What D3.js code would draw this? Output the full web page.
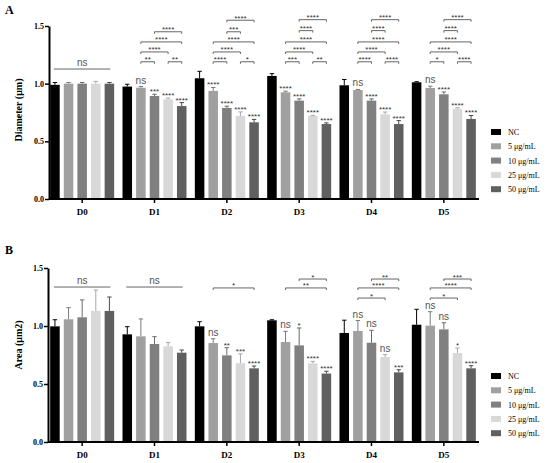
<!DOCTYPE html>
<html>
  <head>
    <meta charset="utf-8">
    <title>Diameter and Area</title>
    <script src="https://d3js.org/d3.v7.min.js"></script>
    <style>
      body {
        margin: 0;
        background-color: white;
      }
      .serif {
        font-family: 'Liberation Serif', 'DejaVu Serif', serif;
      }
      .sans {
        font-family: 'Liberation Sans', Arial, sans-serif;
      }
    </style>
  </head>
  <body>
    <script>
      const days = ['D0', 'D1', 'D2', 'D3', 'D4', 'D5'];
      const groups = ['NC', '5 μg/mL', '10 μg/mL', '25 μg/mL', '50 μg/mL'];
      const yTicks = [0, 0.5, 1.0, 1.5];

      // panel A - diameter, one array per treatment (D0..D5)
      const diamNC = [0.99, 0.975, 1.047, 1.067, 0.986, 1.012];
      const diam5 = [1.0, 0.965, 0.937, 0.925, 0.945, 0.963];
      const diam10 = [1.0, 0.893, 0.79, 0.853, 0.853, 0.908];
      const diam25 = [1.0, 0.865, 0.72, 0.72, 0.734, 0.783];
      const diam50 = [1.0, 0.806, 0.665, 0.65, 0.65, 0.694];
      const diamErrNC = [0.02, 0.02, 0.06, 0.02, 0.05, 0.005];
      const diamErr5 = [0.01, 0.01, 0.03, 0.01, 0.005, 0.015];
      const diamErr10 = [0.01, 0.015, 0.015, 0.015, 0.015, 0.02];
      const diamErr25 = [0.02, 0.01, 0.035, 0.005, 0.02, 0.008];
      const diamErr50 = [0.01, 0.03, 0.025, 0.01, 0.03, 0.03];
      // significance vs NC for 5/10/25/50
      const diamMarks = [
        [],
        ['ns', '***', '****', '****'],
        ['****', '****', '****', '****'],
        ['****', '****', '****', '****'],
        ['ns', '****', '****', '****'],
        ['ns', '****', '****', '****']
      ];
      // [day, from group, to group, label, height]
      const diamBrackets = [
        [0, 0, 4, 'ns', 1.127],
        [1, 1, 2, '**', 1.19], [1, 3, 4, '**', 1.19], [1, 1, 3, '****', 1.275],
        [1, 1, 4, '****', 1.362], [1, 2, 4, '****', 1.45],
        [2, 1, 2, '****', 1.19], [2, 3, 4, '*', 1.19], [2, 1, 3, '****', 1.275],
        [2, 1, 4, '****', 1.362], [2, 2, 3, '***', 1.45], [2, 2, 4, '****', 1.55],
        [3, 1, 2, '***', 1.19], [3, 3, 4, '**', 1.19], [3, 1, 3, '****', 1.275],
        [3, 1, 4, '****', 1.362], [3, 2, 3, '****', 1.46], [3, 2, 4, '****', 1.555],
        [4, 1, 2, '****', 1.19], [4, 3, 4, '****', 1.19], [4, 1, 3, '****', 1.275],
        [4, 1, 4, '****', 1.362], [4, 2, 3, '****', 1.46], [4, 2, 4, '****', 1.555],
        [5, 1, 2, '*', 1.19], [5, 3, 4, '****', 1.19], [5, 1, 3, '****', 1.275],
        [5, 1, 4, '****', 1.362], [5, 2, 3, '****', 1.46], [5, 2, 4, '****', 1.555]
      ];

      // panel B - area
      const areaNC = [0.997, 0.928, 0.997, 1.049, 0.94, 1.011];
      const area5 = [1.058, 0.911, 0.853, 0.862, 0.957, 1.003];
      const area10 = [1.075, 0.845, 0.747, 0.833, 0.856, 0.971];
      const area25 = [1.13, 0.825, 0.68, 0.678, 0.733, 0.767];
      const area50 = [1.13, 0.77, 0.635, 0.59, 0.60, 0.635];
      const areaErrNC = [0.057, 0.066, 0.04, 0.005, 0.11, 0.133];
      const areaErr5 = [0.10, 0.15, 0.037, 0.092, 0.09, 0.12];
      const areaErr10 = [0.15, 0.063, 0.066, 0.15, 0.107, 0.057];
      const areaErr25 = [0.18, 0.032, 0.08, 0.017, 0.02, 0.043];
      const areaErr50 = [0.12, 0.023, 0.02, 0.02, 0.023, 0.023];
      const areaMarks = [
        [],
        [],
        ['ns', '**', '***', '****'],
        ['ns', '*', '****', '****'],
        ['ns', 'ns', 'ns', '***'],
        ['ns', 'ns', '*', '****']
      ];
      const areaBrackets = [
        [0, 0, 4, 'ns', 1.336],
        [1, 0, 4, 'ns', 1.336],
        [2, 1, 4, '*', 1.328],
        [3, 2, 4, '*', 1.405], [3, 1, 4, '**', 1.328],
        [4, 2, 4, '**', 1.405], [4, 1, 4, '****', 1.328], [4, 1, 3, '*', 1.241],
        [5, 2, 4, '***', 1.405], [5, 1, 4, '****', 1.328], [5, 1, 3, '*', 1.241]
      ];

      const colors = ['#000000', '#a0a0a0', '#808080', '#d8d8d8', '#606060'];
      const errColors = ['#000000', '#7a7a7a', '#6a6a6a', '#a8a8a8', '#4a4a4a'];

      const w = 550;
      const h = 463;

      const svg = d3.select('body')
                    .append('svg')
                    .attr('width', w)
                    .attr('height', h);

      function drawPanel(opts) {
        const g = svg.append('g');
        const series = opts.means;

        const xScale = d3.scaleBand()
                         .domain(days)
                         .range([46, 480]);
        const xInner = d3.scaleBand()
                         .domain(d3.range(groups.length))
                         .range([-32, 32])
                         .paddingInner(0.3);
        const yScale = d3.scaleLinear()
                         .domain([0, 1.5])
                         .range([opts.bottom, opts.topY]);

        // bars
        const cells = [];
        days.forEach((d, di) => {
          groups.forEach((grp, gi) => {
            cells.push({day: d, di: di, gi: gi, v: series[gi][di], e: opts.errs[gi][di]});
          });
        });

        const bx = c => xScale(c.day) + xScale.bandwidth() / 2 + xInner(c.gi) + xInner.bandwidth() / 2;

        // error bars (upper only)
        g.selectAll('.err')
         .data(cells)
         .enter()
         .append('path')
         .attr('class', 'err')
         .attr('d', c => {
           const x = bx(c);
           const y0 = yScale(c.v);
           const y1 = yScale(c.v + c.e);
           return `M${x},${y0}V${y1}M${x - 2.2},${y1}H${x + 2.2}`;
         })
         .attr('stroke', c => errColors[c.gi])
         .attr('stroke-width', 1)
         .attr('fill', 'none');

        g.selectAll('.bar')
         .data(cells)
         .enter()
         .append('rect')
         .attr('class', 'bar')
         .attr('x', c => bx(c) - xInner.bandwidth() / 2)
         .attr('y', c => yScale(c.v))
         .attr('width', xInner.bandwidth())
         .attr('height', c => yScale(0) - yScale(c.v))
         .attr('fill', c => colors[c.gi]);

        // marks above bars
        const marks = [];
        opts.marks.forEach((arr, di) => {
          arr.forEach((m, k) => {
            const c = cells[di * groups.length + k + 1];
            marks.push({c: c, m: m});
          });
        });
        g.selectAll('.mark')
         .data(marks)
         .enter()
         .append('text')
         .attr('class', 'sans')
         .attr('x', d => bx(d.c))
         .attr('y', d => yScale(d.c.v + d.c.e) - (d.m === 'ns' ? 3 : 0))
         .attr('text-anchor', 'middle')
         .attr('font-size', d => d.m === 'ns' ? 10 : 8)
         .attr('fill', d => d.m === 'ns' ? '#555' : '#333')
         .text(d => d.m);

        // comparison brackets
        const br = g.selectAll('.br')
                    .data(opts.brackets)
                    .enter()
                    .append('g');
        br.append('path')
          .attr('d', b => {
            const c0 = cells[b[0] * groups.length + b[1]];
            const c1 = cells[b[0] * groups.length + b[2]];
            const x0 = bx(c0) - (b[3] === 'ns' ? 1 : 0);
            const x1 = bx(c1) + (b[3] === 'ns' ? 1 : 0);
            const y = yScale(b[4]);
            if (b[3] === 'ns' && b[2] - b[1] === 4) {
              return `M${x0},${y}H${x1}`;
            }
            return `M${x0},${y + 2}V${y}H${x1}V${y + 2}`;
          })
          .attr('stroke', '#666')
          .attr('stroke-width', 1)
          .attr('fill', 'none');
        br.append('text')
          .attr('class', 'sans')
          .attr('x', b => (bx(cells[b[0] * groups.length + b[1]]) + bx(cells[b[0] * groups.length + b[2]])) / 2)
          .attr('y', b => yScale(b[4]) + (b[3] === 'ns' ? -3 : 0.5))
          .attr('text-anchor', 'middle')
          .attr('font-size', b => b[3] === 'ns' ? 10 : 8)
          .attr('fill', b => b[3] === 'ns' ? '#555' : '#333')
          .text(b => b[3]);

        // axes
        const yAxis = d3.axisLeft(yScale)
                        .tickValues(yTicks)
                        .tickFormat(d3.format('.1f'))
                        .tickSize(4)
                        .tickSizeOuter(0);
        const ya = g.append('g')
                    .attr('transform', `translate(${opts.axisX}, 0)`)
                    .call(yAxis);
        ya.select('.domain').attr('stroke-width', 2);
        ya.selectAll('.tick line').attr('stroke-width', 1.5);
        ya.selectAll('text')
          .attr('class', 'serif')
          .attr('font-size', 8)
          .attr('font-weight', 'bold')
          .attr('x', -5);

        const xAxis = d3.axisBottom(xScale)
                        .tickSize(4)
                        .tickSizeOuter(0);
        const xa = g.append('g')
                    .attr('transform', `translate(0, ${opts.bottom})`)
                    .call(xAxis);
        xa.select('.domain')
          .attr('d', `M${opts.axisX},0H479`)
          .attr('stroke-width', 2);
        xa.selectAll('.tick line').attr('stroke-width', 1.5);
        xa.selectAll('text')
          .attr('class', 'serif')
          .attr('font-size', 9)
          .attr('font-weight', 'bold')
          .attr('y', 10);

        // y title
        g.append('text')
         .attr('class', 'serif')
         .attr('transform', `translate(22, ${opts.titleY}) rotate(-90)`)
         .attr('text-anchor', 'middle')
         .attr('font-size', 10)
         .attr('font-weight', 'bold')
         .text(opts.title);

        // panel letter
        g.append('text')
         .attr('class', 'serif')
         .attr('x', 5)
         .attr('y', opts.letterY)
         .attr('font-size', 12)
         .attr('font-weight', 'bold')
         .text(opts.letter);

        // legend
        const leg = g.selectAll('.leg')
                     .data(groups)
                     .enter()
                     .append('g')
                     .attr('transform', (d, i) => `translate(491, ${opts.legY + i * 14.3})`);
        leg.append('rect')
           .attr('x', 0)
           .attr('y', -3)
           .attr('width', 10)
           .attr('height', 6)
           .attr('fill', (d, i) => colors[i]);
        leg.append('text')
           .attr('class', 'serif')
           .attr('x', 17)
           .attr('y', 3)
           .attr('font-size', 8)
           .text(d => d);
      }

      drawPanel({
        bottom: 199,
        topY: 26,
        axisX: 49,
        means: [diamNC, diam5, diam10, diam25, diam50],
        errs: [diamErrNC, diamErr5, diamErr10, diamErr25, diamErr50],
        marks: diamMarks,
        brackets: diamBrackets,
        title: 'Diameter (μm)',
        titleY: 110,
        letter: 'A',
        letterY: 14,
        legY: 132
      });

      drawPanel({
        bottom: 442,
        topY: 268,
        axisX: 48,
        means: [areaNC, area5, area10, area25, area50],
        errs: [areaErrNC, areaErr5, areaErr10, areaErr25, areaErr50],
        marks: areaMarks,
        brackets: areaBrackets,
        title: 'Area (μm2)',
        titleY: 345,
        letter: 'B',
        letterY: 254,
        legY: 376
      });
    </script>
  </body>
</html>
